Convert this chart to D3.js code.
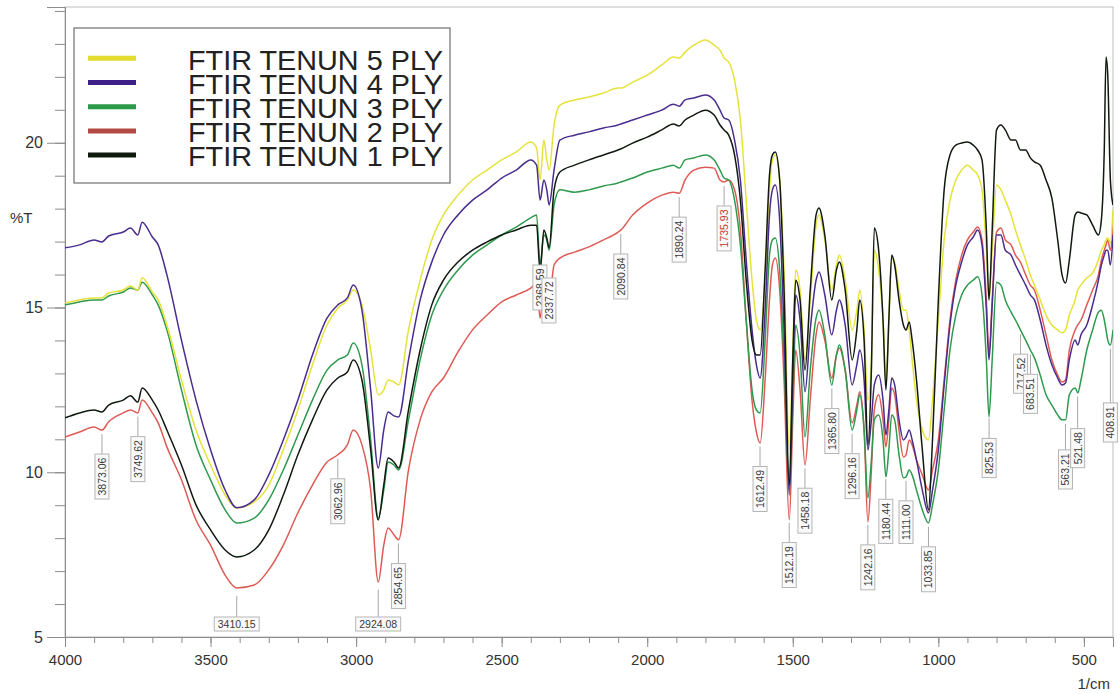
<!DOCTYPE html>
<html>
<head>
<meta charset="utf-8">
<script src="https://cdn.jsdelivr.net/npm/d3@7"></script>
<style>
  body { margin: 0; background: #fff; }
  svg { display: block; font-family: "Liberation Sans", Arial, sans-serif; }
</style>
</head>
<body>
<svg id="chart" width="1120" height="694"></svg>
<script>
// Wavenumber grid (1/cm), shared by every spectrum
const wavenumbers = [
  4000, 3950, 3900, 3873, 3850, 3800, 3775, 3750, 3735, 3700,
  3680, 3650, 3600, 3550, 3500, 3450, 3410, 3350, 3300, 3250,
  3200, 3150, 3100, 3063, 3030, 3010, 2980, 2950, 2924, 2905,
  2890, 2870, 2854, 2820, 2780, 2740, 2700, 2650, 2600, 2550,
  2500, 2450, 2400, 2380, 2368, 2355, 2345, 2337, 2320, 2300,
  2250, 2200, 2150, 2100, 2091, 2050, 2000, 1950, 1910, 1890,
  1870, 1840, 1800, 1770, 1750, 1736, 1720, 1700, 1680, 1660,
  1640, 1625, 1612, 1595, 1580, 1570, 1560, 1545, 1530, 1512,
  1500, 1490, 1475, 1458, 1440, 1420, 1410, 1390, 1366, 1350,
  1340, 1320, 1296, 1280, 1270, 1255, 1242, 1230, 1220, 1205,
  1190, 1180, 1170, 1160, 1150, 1135, 1120, 1111, 1100, 1090,
  1075, 1055, 1034, 1020, 1000, 980, 960, 940, 920, 900,
  880, 865, 850, 835, 826, 815, 800, 785, 770, 750,
  735, 718, 700, 684, 670, 650, 630, 610, 590, 575,
  563, 550, 530, 521, 510, 490, 470, 450, 440, 430,
  424, 418, 409, 400
];

// %T for each sample
const tenun5ply = [
  15.14, 15.23, 15.29, 15.29, 15.44, 15.53, 15.65, 15.53, 15.90, 15.47,
  15.23, 14.47, 12.80, 11.28, 10.22, 9.31, 8.92, 9.10, 9.61, 10.68,
  11.89, 13.26, 14.47, 14.98, 15.23, 15.53, 15.08, 13.71, 12.35, 12.50,
  12.80, 12.74, 12.65, 14.32, 15.83, 17.05, 17.81, 18.41, 18.87, 19.17,
  19.48, 19.72, 20.02, 19.84, 18.87, 20.08, 19.48, 19.17, 20.54, 21.14,
  21.30, 21.39, 21.51, 21.66, 21.66, 21.84, 22.05, 22.36, 22.60, 22.57,
  22.75, 22.96, 23.12, 22.96, 22.81, 22.57, 22.45, 21.90, 20.69, 18.26,
  15.83, 14.62, 14.32, 15.83, 18.57, 19.48, 19.63, 18.87, 16.14, 10.68,
  13.71, 16.14, 15.53, 13.41, 15.23, 17.50, 17.81, 17.05, 15.53, 16.29,
  16.59, 15.83, 14.32, 14.92, 15.53, 14.32, 12.19, 13.41, 16.74, 16.14,
  14.62, 12.80, 14.62, 16.50, 16.38, 15.53, 14.92, 14.92, 14.32, 13.41,
  12.19, 11.28, 10.98, 12.19, 14.62, 17.05, 18.26, 18.87, 19.17, 19.32,
  19.17, 19.02, 18.57, 16.74, 15.23, 16.74, 18.72, 18.57, 18.26, 17.81,
  17.35, 16.90, 16.44, 15.99, 15.68, 15.23, 14.77, 14.47, 14.32, 14.23,
  14.32, 14.77, 15.23, 15.53, 15.68, 15.90, 16.05, 16.44, 16.74, 16.90,
  17.05, 17.11, 16.96, 17.96
];
const tenun4ply = [
  16.81, 16.90, 17.05, 16.99, 17.17, 17.29, 17.41, 17.20, 17.59, 17.14,
  16.90, 15.99, 14.01, 12.19, 10.68, 9.46, 8.92, 9.16, 9.92, 10.98,
  12.19, 13.56, 14.68, 15.08, 15.29, 15.68, 14.92, 12.50, 10.13, 11.28,
  11.83, 11.71, 11.68, 13.41, 15.23, 16.38, 17.20, 17.81, 18.26, 18.57,
  18.93, 19.17, 19.48, 19.32, 18.26, 18.87, 18.57, 18.11, 19.17, 20.08,
  20.23, 20.33, 20.45, 20.54, 20.57, 20.69, 20.84, 20.99, 21.17, 21.11,
  21.30, 21.36, 21.45, 21.30, 20.99, 20.75, 20.69, 20.08, 18.87, 16.44,
  14.32, 13.26, 12.86, 14.92, 17.81, 18.57, 18.72, 17.65, 14.32, 9.31,
  12.80, 15.38, 14.62, 12.44, 14.32, 15.83, 16.08, 15.38, 14.17, 14.92,
  15.23, 14.47, 12.65, 13.26, 13.71, 12.80, 10.68, 11.59, 12.65, 12.95,
  12.19, 11.13, 11.89, 12.86, 12.65, 11.59, 10.98, 11.07, 11.28, 10.98,
  10.37, 9.46, 8.77, 9.46, 10.68, 12.65, 14.47, 15.68, 16.38, 16.90,
  17.14, 17.35, 16.90, 14.92, 13.41, 15.08, 17.20, 17.20, 16.74, 16.59,
  16.29, 15.99, 15.68, 15.38, 15.23, 14.62, 13.86, 13.26, 12.86, 12.65,
  12.71, 13.41, 14.01, 13.86, 14.17, 14.47, 15.08, 15.83, 16.29, 16.59,
  16.74, 16.74, 16.29, 17.20
];
const tenun3ply = [
  15.08, 15.17, 15.23, 15.23, 15.35, 15.47, 15.59, 15.53, 15.77, 15.38,
  15.08, 14.32, 12.50, 10.83, 9.77, 8.86, 8.46, 8.61, 9.16, 10.07,
  11.13, 12.19, 13.10, 13.41, 13.56, 13.92, 13.26, 10.98, 8.61, 9.46,
  10.31, 10.22, 10.07, 11.59, 13.41, 14.77, 15.53, 16.14, 16.59, 16.90,
  17.20, 17.44, 17.72, 17.81, 16.29, 17.20, 17.05, 16.74, 18.11, 18.57,
  18.50, 18.57, 18.69, 18.78, 18.81, 18.93, 19.11, 19.23, 19.32, 19.23,
  19.48, 19.54, 19.63, 19.48, 19.17, 18.93, 18.87, 18.26, 16.90, 14.62,
  12.50, 11.89, 11.80, 14.01, 16.59, 17.05, 17.11, 16.14, 13.41, 9.46,
  12.19, 14.47, 13.56, 11.07, 13.10, 14.68, 14.92, 14.17, 12.65, 13.56,
  13.86, 13.10, 11.28, 11.89, 12.35, 11.28, 9.22, 10.37, 11.59, 11.74,
  10.98, 9.86, 10.68, 11.74, 11.59, 10.53, 9.83, 9.86, 10.07, 9.92,
  9.46, 8.86, 8.46, 9.01, 10.07, 11.89, 13.71, 14.77, 15.38, 15.68,
  15.83, 15.93, 15.38, 13.41, 11.68, 13.41, 15.77, 15.68, 15.23, 14.86,
  14.62, 14.32, 14.01, 13.71, 13.47, 12.95, 12.35, 12.04, 11.74, 11.59,
  11.59, 12.35, 12.56, 12.41, 12.80, 13.71, 14.32, 14.86, 14.92, 14.62,
  14.32, 14.01, 13.86, 14.32
];
const tenun2ply = [
  11.07, 11.22, 11.37, 11.28, 11.53, 11.80, 11.89, 11.80, 12.19, 11.80,
  11.50, 10.77, 9.77, 8.55, 7.79, 6.88, 6.49, 6.58, 7.04, 7.79,
  8.77, 9.61, 10.31, 10.53, 10.83, 11.28, 10.83, 9.46, 6.67, 7.79,
  8.31, 8.10, 7.95, 10.07, 11.59, 12.44, 12.86, 13.65, 14.32, 14.77,
  15.17, 15.38, 15.59, 15.74, 14.68, 15.47, 15.38, 15.23, 16.29, 16.50,
  16.68, 16.84, 17.05, 17.29, 17.35, 17.81, 18.17, 18.41, 18.50, 18.47,
  18.87, 19.17, 19.26, 19.23, 18.87, 18.81, 18.87, 18.57, 17.35, 14.62,
  12.19, 11.22, 10.89, 12.80, 15.23, 16.29, 16.50, 15.53, 12.80, 8.55,
  11.59, 13.71, 12.50, 10.22, 12.19, 14.17, 14.56, 14.01, 12.86, 13.56,
  13.77, 13.10, 11.50, 12.04, 12.44, 11.28, 8.49, 10.07, 11.89, 12.35,
  11.59, 10.77, 11.59, 12.56, 12.35, 11.28, 10.46, 10.53, 10.98, 10.83,
  10.37, 9.92, 9.46, 10.07, 10.98, 12.80, 14.62, 15.83, 16.59, 17.05,
  17.29, 17.44, 17.05, 15.23, 13.56, 15.23, 17.29, 17.41, 17.05, 16.90,
  16.59, 16.38, 15.99, 15.68, 15.53, 14.92, 14.17, 13.41, 12.95, 12.74,
  12.80, 13.71, 14.32, 14.47, 14.62, 15.08, 15.53, 15.99, 16.44, 16.74,
  16.90, 17.05, 16.74, 17.50
];
const tenun1ply = [
  11.65, 11.80, 11.89, 11.83, 12.04, 12.19, 12.32, 12.13, 12.56, 12.19,
  11.89, 11.28, 10.22, 9.01, 8.25, 7.64, 7.43, 7.64, 8.25, 9.31,
  10.53, 11.59, 12.50, 12.86, 13.04, 13.41, 12.80, 10.68, 8.55, 9.61,
  10.43, 10.31, 10.13, 11.89, 13.71, 15.08, 15.83, 16.38, 16.74, 16.99,
  17.20, 17.35, 17.50, 17.50, 16.08, 17.35, 17.11, 16.81, 18.57, 19.11,
  19.32, 19.48, 19.63, 19.78, 19.81, 19.99, 20.17, 20.39, 20.57, 20.51,
  20.69, 20.84, 20.99, 20.84, 20.54, 20.39, 20.23, 19.63, 18.26, 15.83,
  14.01, 13.56, 13.56, 16.14, 19.02, 19.63, 19.72, 18.87, 15.53, 9.61,
  13.41, 15.83, 15.23, 13.10, 15.53, 17.81, 18.02, 17.20, 15.23, 16.14,
  16.38, 15.53, 13.41, 14.32, 15.23, 14.01, 10.83, 13.10, 17.41, 16.74,
  14.62, 12.50, 14.62, 16.59, 16.29, 15.23, 14.47, 14.32, 14.56, 14.01,
  12.80, 10.68, 8.86, 10.98, 15.23, 18.57, 19.63, 19.93, 19.99, 20.02,
  19.93, 19.78, 19.48, 17.35, 15.23, 17.35, 20.39, 20.54, 20.39, 20.08,
  20.08, 19.78, 19.78, 19.54, 19.42, 19.32, 18.87, 18.32, 17.05, 15.99,
  15.74, 16.44, 17.81, 17.90, 17.87, 17.81, 17.50, 17.20, 17.65, 19.78,
  22.60, 22.05, 18.87, 18.11
];

const seriesNames = ["FTIR TENUN 5 PLY", "FTIR TENUN 4 PLY", "FTIR TENUN 3 PLY", "FTIR TENUN 2 PLY", "FTIR TENUN 1 PLY"];
const seriesValues = [tenun5ply, tenun4ply, tenun3ply, tenun2ply, tenun1ply];

// Annotated peak positions (1/cm)
const peakLabels = [
  "3873.06", "3749.62", "3410.15", "3062.96", "2924.08", "2854.65", "2368.59", "2337.72",
  "2090.84", "1890.24", "1735.93", "1612.49", "1512.19", "1458.18", "1365.80", "1296.16",
  "1242.16", "1180.44", "1111.00", "1033.85", "825.53", "717.52", "683.51", "563.21",
  "521.48", "408.91"
];

const yTickValues = [5, 10, 15, 20];
const xTickValues = [4000, 3500, 3000, 2500, 2000, 1500, 1000, 500];

// ---- layout & style ----
const plot = { left: 65, right: 1113, top: 7, bottom: 637 };
const colors = ["#e6e23c", "#4a2c8f", "#2f9a4e", "#de5b55", "#111a11"];
const legendColors = ["#e2dc2e", "#3d2188", "#2b9a47", "#b44a45", "#0e1a0e"];
const drawOrder = [3, 2, 0, 1, 4];
const highlightedPeaks = { "1735.93": "#c0392b" };
const extraDrop = { "408.91": 34, "521.48": 12, "563.21": 6 };
// labels sitting among the curves (pixel top of their box, no leader)
const pinnedBoxTop = { "2368.59": 265, "2337.72": 278 };

const svg = d3.select("#chart");

const x = d3.scaleLinear().domain([4000, 400]).range([plot.left, plot.right]);
const y = d3.scaleLinear().domain([5, 24.12]).range([plot.bottom, plot.top]);

// plot frame
svg.append("rect")
  .attr("x", plot.left).attr("y", plot.top)
  .attr("width", plot.right - plot.left).attr("height", plot.bottom - plot.top)
  .attr("fill", "none").attr("stroke", "#bdbdbd").attr("stroke-width", 1);

// y axis: minor ticks every 1 %T, major every 5
const yMinor = svg.append("g").attr("transform", `translate(${plot.left},0)`)
  .call(d3.axisLeft(y).tickValues(d3.range(5, 25)).tickSize(10).tickFormat(""));
const yMajor = svg.append("g").attr("transform", `translate(${plot.left},0)`)
  .call(d3.axisLeft(y).tickValues(yTickValues).tickSize(18).tickPadding(4).tickFormat(d3.format("d")));
[yMinor, yMajor].forEach(g => {
  g.select(".domain").attr("stroke", "#8c8c8c");
  g.selectAll(".tick line").attr("stroke", "#8c8c8c");
});
yMajor.selectAll(".tick text").attr("font-size", 16).attr("fill", "#333")
  .attr("font-family", "Liberation Sans, Arial, sans-serif");

// x axis: minor ticks every 100, major every 500
const xMinor = svg.append("g").attr("transform", `translate(0,${plot.bottom})`)
  .call(d3.axisBottom(x).tickValues(d3.range(400, 4001, 100)).tickSize(6).tickFormat(""));
const xMajor = svg.append("g").attr("transform", `translate(0,${plot.bottom})`)
  .call(d3.axisBottom(x).tickValues(xTickValues).tickSize(10).tickPadding(7).tickFormat(d3.format("d")));
[xMinor, xMajor].forEach(g => {
  g.select(".domain").attr("stroke", "#8c8c8c");
  g.selectAll(".tick line").attr("stroke", "#8c8c8c");
});
xMajor.selectAll(".tick text").attr("font-size", 15).attr("fill", "#333")
  .attr("font-family", "Liberation Sans, Arial, sans-serif");

// axis titles
svg.append("text").attr("x", 10).attr("y", 223).attr("font-size", 15).attr("fill", "#333").text("%T");
svg.append("text").attr("x", 1110).attr("y", 689).attr("text-anchor", "end")
  .attr("font-size", 15).attr("fill", "#333").text("1/cm");

// spectra
svg.append("clipPath").attr("id", "plot-clip").append("rect")
  .attr("x", plot.left).attr("y", plot.top)
  .attr("width", plot.right - plot.left).attr("height", plot.bottom - plot.top);

const line = d3.line()
  .x((d, i) => x(wavenumbers[i]))
  .y(d => y(d))
  .curve(d3.curveMonotoneX);

const spectra = svg.append("g").attr("clip-path", "url(#plot-clip)");
drawOrder.forEach(k => {
  spectra.append("path")
    .datum(seriesValues[k])
    .attr("d", line)
    .attr("fill", "none")
    .attr("stroke", colors[k])
    .attr("stroke-width", 1.5)
    .attr("stroke-linejoin", "round");
});

// value of a spectrum at any wavenumber (linear between grid points)
function valueAt(values, wn) {
  for (let i = 0; i < wavenumbers.length - 1; i++) {
    const a = wavenumbers[i], b = wavenumbers[i + 1];
    if (wn <= a && wn >= b) {
      const t = (a - wn) / (a - b);
      return values[i] + t * (values[i + 1] - values[i]);
    }
  }
  return values[values.length - 1];
}

// peak annotations: leader from below the lowest spectrum, then a boxed label
const labels = svg.append("g").attr("font-size", 10.5);
peakLabels.forEach(lbl => {
  const wn = +lbl;
  const px = x(wn);
  const lowest = d3.min(seriesValues, v => valueAt(v, wn));
  const yCurve = y(lowest);
  const textColor = highlightedPeaks[lbl] || "#3a3a3a";
  const g = labels.append("g");
  const txt = g.append("text").attr("fill", textColor).text(lbl);
  const len = txt.node().getComputedTextLength();
  const boxLen = len + 7, boxThick = 14;
  let leaderTop = yCurve + 4;
  let boxTop = leaderTop + 20 + (extraDrop[lbl] || 0);
  const pinned = pinnedBoxTop[lbl] !== undefined;
  if (pinned) boxTop = pinnedBoxTop[lbl];
  if (!pinned && boxTop + boxLen > plot.bottom - 4) {
    // not enough room: horizontal label at the bottom of the plot
    leaderTop = yCurve + 8;
    const bTop = plot.bottom - 20;
    g.insert("line", "text").attr("x1", px).attr("x2", px).attr("y1", leaderTop).attr("y2", bTop)
      .attr("stroke", "#a8a8a8");
    g.insert("rect", "text").attr("x", px - boxLen / 2).attr("y", bTop)
      .attr("width", boxLen).attr("height", boxThick)
      .attr("fill", "#fafafa").attr("stroke", "#b5b5b5");
    txt.attr("x", px).attr("y", bTop + 11).attr("text-anchor", "middle");
  } else {
    if (!pinned) {
      g.insert("line", "text").attr("x1", px).attr("x2", px).attr("y1", leaderTop).attr("y2", boxTop)
        .attr("stroke", "#a8a8a8");
    }
    g.insert("rect", "text").attr("x", px - boxThick / 2).attr("y", boxTop)
      .attr("width", boxThick).attr("height", boxLen)
      .attr("fill", "#fafafa").attr("stroke", "#b5b5b5");
    txt.attr("transform", `translate(${px + 4},${boxTop + boxLen / 2}) rotate(-90)`)
      .attr("text-anchor", "middle");
  }
});

// legend
const legend = svg.append("g");
legend.append("rect").attr("x", 74).attr("y", 28).attr("width", 376).attr("height", 155)
  .attr("fill", "#fff").attr("stroke", "#6e6e6e").attr("stroke-width", 1.2);
seriesNames.forEach((name, i) => {
  const ly = 58.3 + i * 24.2;
  legend.append("line").attr("x1", 88).attr("x2", 136).attr("y1", ly).attr("y2", ly)
    .attr("stroke", legendColors[i]).attr("stroke-width", 5);
  legend.append("text").attr("x", 188).attr("y", ly + 11.2)
    .attr("font-size", 27).attr("fill", "#222")
    .attr("textLength", 255).attr("lengthAdjust", "spacingAndGlyphs")
    .text(name);
});
</script>
</body>
</html>
